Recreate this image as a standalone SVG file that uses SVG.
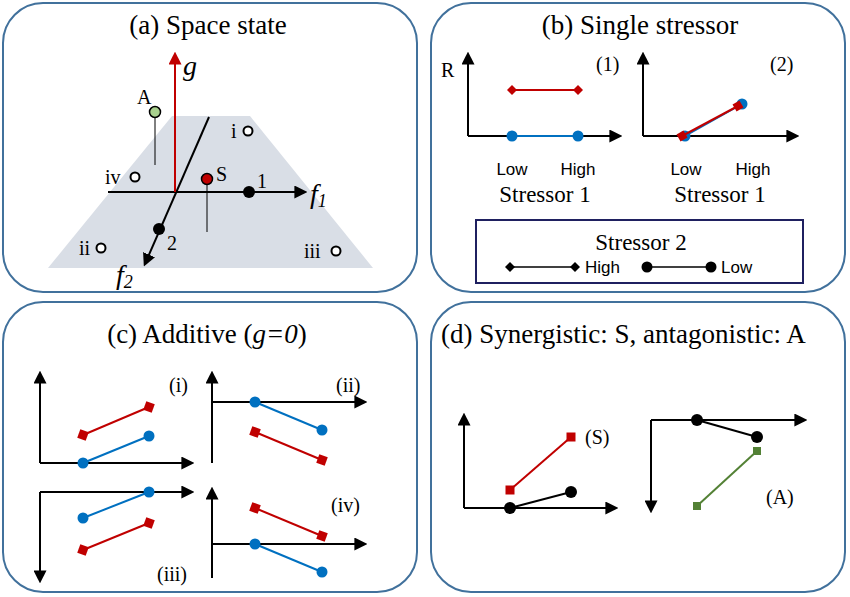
<svg xmlns="http://www.w3.org/2000/svg" width="850" height="597" viewBox="0 0 850 597">
<style>
.panel{fill:#fff;stroke:#41719c;stroke-width:2}
.t{font-family:"Liberation Serif",serif;fill:#000}
.a{font-family:"Liberation Sans",sans-serif;fill:#000}
.ax{stroke:#000;stroke-width:2;fill:none;marker-end:url(#ar)}
.red{stroke:#c00000;stroke-width:2}
.blue{stroke:#0070c0;stroke-width:2}
.blk{stroke:#000;stroke-width:2}
.grn{stroke:#538135;stroke-width:2}
.cb{fill:#0070c0}
.cr{fill:#c00000}
.open{fill:#fff;stroke:#000;stroke-width:2}
</style>
<defs>
<marker id="ar" viewBox="0 0 10 10" refX="2" refY="5" markerWidth="6.5" markerHeight="6.5" orient="auto" markerUnits="strokeWidth"><path d="M0,0L10,5L0,10z" fill="#000"/></marker>
<marker id="arr" viewBox="0 0 10 10" refX="2" refY="5" markerWidth="6.5" markerHeight="6.5" orient="auto" markerUnits="strokeWidth"><path d="M0,0L10,5L0,10z" fill="#c00000"/></marker>
<path id="dm" d="M0,-5L5,0L0,5L-5,0z"/>
<rect id="sq" x="-4.5" y="-4.5" width="9" height="9" transform="rotate(20)"/>
</defs>
<g id="panelA">
<rect class="panel" x="3" y="3" width="414" height="289" rx="40"/>
<text class="t" x="208" y="34" font-size="27" text-anchor="middle">(a) Space state</text>
<polygon points="172,116 250,116 373,268 48,268" fill="#d9dee6"/>
<line x1="108" y1="192" x2="297" y2="192" class="ax"/>
<line x1="209" y1="117" x2="148" y2="257" class="ax"/>
<line x1="175" y1="192" x2="175" y2="62" stroke="#c00000" stroke-width="2" marker-end="url(#arr)"/>
<text class="t" x="183" y="75" font-size="28" font-style="italic">g</text>
<text class="t" x="310" y="203" font-size="28" font-style="italic">f<tspan font-size="18" dy="4">1</tspan></text>
<text class="t" x="116" y="284" font-size="28" font-style="italic">f<tspan font-size="18" dy="4">2</tspan></text>
<line x1="155" y1="118" x2="155" y2="165" stroke="#000" stroke-width="1"/>
<circle cx="155" cy="112" r="5.5" fill="#a9d18e" stroke="#000" stroke-width="1.5"/>
<text class="t" x="137" y="104" font-size="20">A</text>
<line x1="207" y1="184" x2="207" y2="232" stroke="#000" stroke-width="1"/>
<circle cx="207" cy="179" r="5.5" fill="#c00000" stroke="#000" stroke-width="1.5"/>
<text class="t" x="216" y="181" font-size="20">S</text>
<circle cx="249" cy="192" r="6" fill="#000"/>
<text class="t" x="257" y="188" font-size="20">1</text>
<circle cx="159" cy="229" r="6" fill="#000"/>
<text class="t" x="167" y="250" font-size="20">2</text>
<circle class="open" cx="248" cy="131" r="4.5"/><text class="t" x="231" y="138" font-size="20">i</text>
<circle class="open" cx="135" cy="177" r="4.5"/><text class="t" x="105" y="184" font-size="20">iv</text>
<circle class="open" cx="101" cy="248" r="4.5"/><text class="t" x="79" y="255" font-size="20">ii</text>
<circle class="open" cx="336" cy="251" r="4.5"/><text class="t" x="304" y="258" font-size="20">iii</text>
</g>
<g id="panelB">
<rect class="panel" x="431" y="3" width="414" height="289" rx="40"/>
<text class="t" x="640" y="34" font-size="27" text-anchor="middle">(b) Single stressor</text>
<line x1="468" y1="136" x2="468" y2="62" class="ax"/>
<line x1="468" y1="136" x2="612" y2="136" class="ax"/>
<text class="t" x="441" y="77" font-size="20">R</text>
<text class="t" x="596" y="71" font-size="20">(1)</text>
<line x1="512" y1="90" x2="578" y2="90" class="red"/>
<use href="#dm" x="512" y="90" class="cr"/><use href="#dm" x="578" y="90" class="cr"/>
<line x1="512" y1="136" x2="578" y2="136" class="blue"/>
<circle cx="512" cy="136" r="5.5" class="cb"/><circle cx="578" cy="136" r="5.5" class="cb"/>
<text class="a" x="512" y="175" font-size="17" text-anchor="middle">Low</text>
<text class="a" x="578" y="175" font-size="17" text-anchor="middle">High</text>
<text class="t" x="545" y="202" font-size="23" text-anchor="middle">Stressor 1</text>
<line x1="643" y1="136" x2="643" y2="62" class="ax"/>
<line x1="643" y1="136" x2="789" y2="136" class="ax"/>
<text class="t" x="770" y="71" font-size="20">(2)</text>
<line x1="685" y1="136" x2="742" y2="104" class="blue"/>
<circle cx="685" cy="136" r="5.5" class="cb"/><circle cx="742" cy="104" r="5.5" class="cb"/>
<line x1="682" y1="136" x2="738" y2="106" class="red"/>
<rect x="678" y="132" width="8" height="8" class="cr" transform="rotate(-30 682 136)"/>
<rect x="734" y="102" width="8" height="8" class="cr" transform="rotate(-30 738 106)"/>
<text class="a" x="686" y="175" font-size="17" text-anchor="middle">Low</text>
<text class="a" x="753" y="175" font-size="17" text-anchor="middle">High</text>
<text class="t" x="720" y="202" font-size="23" text-anchor="middle">Stressor 1</text>
<rect x="476" y="220" width="327" height="63" fill="#fff" stroke="#1f2060" stroke-width="2"/>
<text class="t" x="641" y="250" font-size="23" text-anchor="middle">Stressor 2</text>
<line x1="510" y1="267" x2="575" y2="267" stroke="#000" stroke-width="1.5"/>
<use href="#dm" x="510" y="267"/><use href="#dm" x="575" y="267"/>
<text class="a" x="585" y="273" font-size="17">High</text>
<line x1="647" y1="267" x2="711" y2="267" stroke="#000" stroke-width="1.5"/>
<circle cx="647" cy="267" r="5.5"/><circle cx="711" cy="267" r="5.5"/>
<text class="a" x="721" y="273" font-size="17">Low</text>
</g>
<g id="panelC">
<rect class="panel" x="3" y="302" width="414" height="290" rx="40"/>
<text class="t" x="207" y="343" font-size="27" text-anchor="middle">(c) Additive (<tspan font-style="italic">g=0</tspan>)</text>
<line x1="40" y1="463" x2="40" y2="381" class="ax"/>
<line x1="40" y1="463" x2="184" y2="463" class="ax"/>
<text class="t" x="169" y="392" font-size="20">(i)</text>
<line x1="83" y1="435" x2="149" y2="407" class="red"/>
<use href="#sq" x="83" y="435" class="cr"/><use href="#sq" x="149" y="407" class="cr"/>
<line x1="83" y1="463" x2="149" y2="436" class="blue"/>
<circle cx="83" cy="463" r="5.5" class="cb"/><circle cx="149" cy="436" r="5.5" class="cb"/>
<line x1="212" y1="463" x2="212" y2="381" class="ax"/>
<line x1="212" y1="402" x2="357" y2="402" class="ax"/>
<text class="t" x="336" y="392" font-size="20">(ii)</text>
<line x1="255" y1="402" x2="322" y2="430" class="blue"/>
<circle cx="255" cy="402" r="5.5" class="cb"/><circle cx="322" cy="430" r="5.5" class="cb"/>
<line x1="255" y1="432" x2="322" y2="460" class="red"/>
<use href="#sq" x="255" y="432" class="cr"/><use href="#sq" x="322" y="460" class="cr"/>
<line x1="40" y1="492" x2="184" y2="492" class="ax"/>
<line x1="40" y1="492" x2="40" y2="573" class="ax"/>
<text class="t" x="157" y="581" font-size="20">(iii)</text>
<line x1="83" y1="518" x2="149" y2="492" class="blue"/>
<circle cx="83" cy="518" r="5.5" class="cb"/><circle cx="149" cy="492" r="5.5" class="cb"/>
<line x1="83" y1="550" x2="149" y2="523" class="red"/>
<use href="#sq" x="83" y="550" class="cr"/><use href="#sq" x="149" y="523" class="cr"/>
<line x1="212" y1="578" x2="212" y2="497" class="ax"/>
<line x1="212" y1="544" x2="357" y2="544" class="ax"/>
<text class="t" x="331" y="512" font-size="20">(iv)</text>
<line x1="255" y1="508" x2="322" y2="536" class="red"/>
<use href="#sq" x="255" y="508" class="cr"/><use href="#sq" x="322" y="536" class="cr"/>
<line x1="255" y1="544" x2="322" y2="572" class="blue"/>
<circle cx="255" cy="544" r="5.5" class="cb"/><circle cx="322" cy="572" r="5.5" class="cb"/>
</g>
<g id="panelD">
<rect class="panel" x="431" y="302" width="414" height="290" rx="40"/>
<text class="t" x="441" y="343" font-size="27">(d) Synergistic: S, antagonistic: A</text>
<line x1="464" y1="508" x2="464" y2="423" class="ax"/>
<line x1="464" y1="508" x2="608" y2="508" class="ax"/>
<line x1="510" y1="490" x2="571" y2="437" class="red"/>
<rect x="505.5" y="485.5" width="9" height="9" class="cr"/><rect x="566.5" y="432.5" width="9" height="9" class="cr"/>
<line x1="510" y1="508" x2="571" y2="492" class="blk"/>
<circle cx="510" cy="508" r="6"/><circle cx="571" cy="492" r="6"/>
<text class="t" x="585" y="444" font-size="20">(S)</text>
<line x1="651" y1="420" x2="797" y2="420" class="ax"/>
<line x1="651" y1="420" x2="651" y2="503" class="ax"/>
<line x1="697" y1="420" x2="757" y2="437" class="blk"/>
<circle cx="697" cy="420" r="6"/><circle cx="757" cy="437" r="6"/>
<line x1="757" y1="451" x2="697" y2="506" class="grn"/>
<rect x="753" y="447" width="8" height="8" fill="#538135"/><rect x="693" y="502" width="8" height="8" fill="#538135"/>
<text class="t" x="766" y="504" font-size="20">(A)</text>
</g>
</svg>
